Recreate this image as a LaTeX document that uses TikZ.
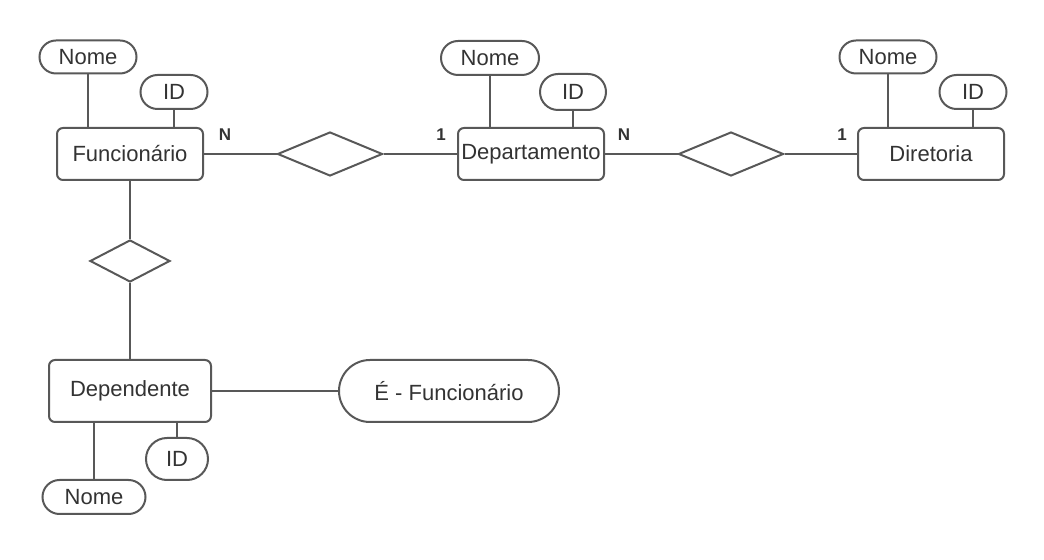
\documentclass[tikz,border=0pt]{standalone}
\usepackage{fontspec}
\setmainfont{Liberation Sans}
\usetikzlibrary{shapes.geometric, shapes.misc}
\definecolor{erLineColor}{RGB}{88,88,88}
\definecolor{erText}{RGB}{51,51,51}
\tikzset{
  entityBox/.style={
    rectangle,
    rounded corners=3pt,
    draw=erLineColor,
    line width=1pt,
    fill=white,
    text=erText,
    font=\fontsize{11}{13}\selectfont,
    inner sep=0pt,
    minimum width=73pt,
    minimum height=26pt
  },
  attrNode/.style={
    rounded rectangle,
    draw=erLineColor,
    line width=1pt,
    fill=white,
    text=erText,
    font=\fontsize{11}{13}\selectfont,
    inner sep=0pt
  },
  relDiamond/.style={
    diamond,
    draw=erLineColor,
    line width=1pt,
    fill=white,
    inner sep=0pt,
    minimum width=52.5pt,
    minimum height=22pt
  },
  cardLabel/.style={font=\bfseries\fontsize{8.5}{10}\selectfont, text=erText, inner sep=0pt},
  erLink/.style={draw=erLineColor, line width=1pt}
}

\begin{document}
\begin{tikzpicture}[x=0.5pt, y=-0.5pt]
  \useasboundingbox (0,0) rectangle (1044,560);

  % entidades
  \node[entityBox] (func) at (130,154) {Funcionário};
  \node[entityBox] (dep) at (531,154) {Departamento};
  \node[entityBox] (dir) at (931,154) {Diretoria};
  \node[entityBox, minimum width=81pt, minimum height=31pt] (dpd) at (130,391) {Dependente};

  % relacionamentos
  \node[relDiamond] (relFuncDep) at (330,154) {};
  \node[relDiamond] (relDepDir) at (731,154) {};
  \node[relDiamond, minimum width=40pt, minimum height=21pt] (relFuncDpd) at (130,261) {};

  % atributos
  \node[attrNode, minimum width=48.5pt, minimum height=16.5pt] (funcNome) at (88,57) {Nome};
  \node[attrNode, minimum width=33.5pt, minimum height=17pt] (funcId) at (174,92) {ID};
  \node[attrNode, minimum width=49pt, minimum height=17pt] (depNome) at (490,58) {Nome};
  \node[attrNode, minimum width=33pt, minimum height=18pt] (depId) at (573,92) {ID};
  \node[attrNode, minimum width=48.5pt, minimum height=16.5pt] (dirNome) at (888,57) {Nome};
  \node[attrNode, minimum width=33.5pt, minimum height=17pt] (dirId) at (973,92) {ID};
  \node[attrNode, minimum width=110pt, minimum height=31pt] (eFunc) at (449,391) {É - Funcionário};
  \node[attrNode, minimum width=31pt, minimum height=21pt] (dpdId) at (177,459) {ID};
  \node[attrNode, minimum width=51.5pt, minimum height=17pt] (dpdNome) at (94,497) {Nome};

  % cardinalidades
  \node[cardLabel] (cardFunc) at (225,135) {N};
  \node[cardLabel] (cardDepA) at (441,135) {1};
  \node[cardLabel] (cardDepB) at (624,135) {N};
  \node[cardLabel] (cardDir) at (842,135) {1};

  % ligacoes
  \draw[erLink] (func) -- (relFuncDep) -- (dep);
  \draw[erLink] (dep) -- (relDepDir) -- (dir);
  \draw[erLink] (func) -- (relFuncDpd) -- (dpd);
  \draw[erLink] (dpd) -- (eFunc);

  \draw[erLink] (funcNome.south) -- (funcNome.south |- func.north);
  \draw[erLink] (funcId.south) -- (funcId.south |- func.north);
  \draw[erLink] (depNome.south) -- (depNome.south |- dep.north);
  \draw[erLink] (depId.south) -- (depId.south |- dep.north);
  \draw[erLink] (dirNome.south) -- (dirNome.south |- dir.north);
  \draw[erLink] (dirId.south) -- (dirId.south |- dir.north);
  \draw[erLink] (dpdNome.north) -- (dpdNome.north |- dpd.south);
  \draw[erLink] (dpdId.north) -- (dpdId.north |- dpd.south);
\end{tikzpicture}
\end{document}
